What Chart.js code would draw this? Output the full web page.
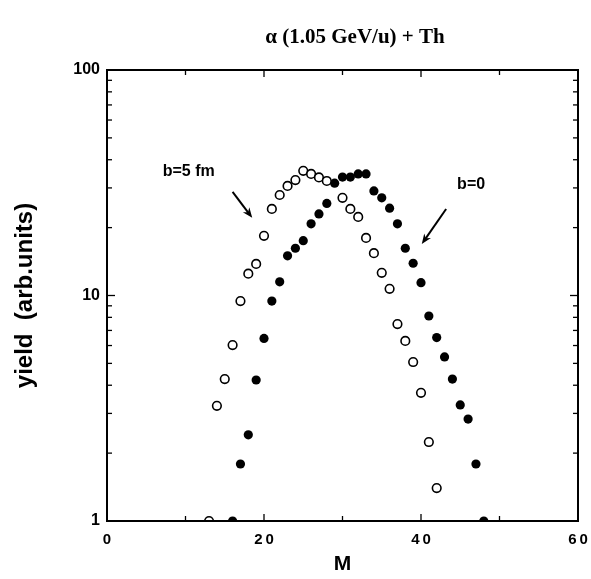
<!DOCTYPE html>
<html>
<head>
<meta charset="utf-8">
<script src="https://cdn.jsdelivr.net/npm/chart.js@4.4.0/dist/chart.umd.min.js"></script>
<style>
html, body { margin: 0; padding: 0; background: #fff; }
</style>
</head>
<body>
<canvas id="canvas" width="591" height="579"></canvas>
<script>
// multiplicity M and yields
var multOpen  = [13, 14, 15, 16, 17, 18, 19, 20, 21, 22, 23, 24, 25, 26, 27, 28,
                 30, 31, 32, 33, 34, 35, 36, 37, 38, 39, 40, 41, 42];
var yieldOpen = [1.0, 3.24, 4.26, 6.03, 9.45, 12.5, 13.8, 18.4, 24.2, 27.9, 30.6, 32.5, 35.7, 34.6, 33.4, 32.2,
                 27.1, 24.2, 22.3, 18.0, 15.4, 12.6, 10.7, 7.47, 6.29, 5.07, 3.70, 2.24, 1.40];

var multFilled  = [16, 17, 18, 19, 20, 21, 22, 23, 24, 25, 26, 27, 28, 29, 30, 31, 32,
                   33, 34, 35, 36, 37, 38, 39, 40, 41, 42, 43, 44, 45, 46, 47, 48];
var yieldFilled = [1.0, 1.79, 2.41, 4.22, 6.45, 9.45, 11.5, 15.0, 16.2, 17.5, 20.8, 23.0, 25.6, 31.5, 33.5, 33.5, 34.6,
                   34.6, 29.1, 27.1, 24.4, 20.8, 16.2, 13.9, 11.4, 8.11, 6.51, 5.34, 4.26, 3.27, 2.83, 1.79, 1.0];

var xTicks = [0, 20, 40, 60];
var yTicks = [1, 10, 100];

// annotations (data coordinates)
var noteText  = ['b=5 fm', 'b=0'];
var noteM     = [7.1, 44.6];
var noteY     = [35.3, 30.9];
var arrowFromM = [16.0, 43.2];
var arrowFromY = [28.8, 24.2];
var arrowToM   = [18.5, 40.1];
var arrowToY   = [22.1, 16.9];

var sans = '"Liberation Sans", Arial, sans-serif';

function toPoints(xs, ys) {
    var pts = [];
    for (var i = 0; i < xs.length; i++) pts.push({x: xs[i], y: ys[i]});
    return pts;
}

//frame round the plot with inward ticks on all four sides
var frameTicks = {
    id: 'frameTicks',
    afterDatasetsDraw: function(chart) {
        var ctx = chart.ctx, a = chart.chartArea;
        var xs = chart.scales.x, ys = chart.scales.y;
        ctx.save();
        ctx.strokeStyle = '#000';
        ctx.lineWidth = 1.3;
        function seg(x1, y1, x2, y2) {
            ctx.beginPath(); ctx.moveTo(x1, y1); ctx.lineTo(x2, y2); ctx.stroke();
        }
        for (var v = 10; v < 60; v += 10) {
            var px = xs.getPixelForValue(v);
            var len = (v % 20 === 0) ? 7 : 5;
            seg(px, a.bottom, px, a.bottom - len);
            seg(px, a.top, px, a.top + len);
        }
        for (var d = 1; d < 100; d *= 10) {
            for (var k = 2; k <= 10; k++) {
                if (d * k >= 100) continue;
                var py = ys.getPixelForValue(d * k);
                var l = (k === 10) ? 8 : 5;
                seg(a.left, py, a.left + l, py);
                seg(a.right, py, a.right - l, py);
            }
        }
        ctx.lineWidth = 2;
        ctx.strokeRect(a.left, a.top, a.right - a.left, a.bottom - a.top);
        ctx.restore();
    }
};

var notes = {
    id: 'notes',
    afterDraw: function(chart) {
        var ctx = chart.ctx;
        var xs = chart.scales.x, ys = chart.scales.y;
        ctx.save();
        ctx.fillStyle = '#000';
        ctx.strokeStyle = '#000';
        ctx.font = 'bold 16px ' + sans;
        ctx.textBaseline = 'middle';
        for (var i = 0; i < noteText.length; i++) {
            ctx.fillText(noteText[i], xs.getPixelForValue(noteM[i]), ys.getPixelForValue(noteY[i]));
            var x1 = xs.getPixelForValue(arrowFromM[i]), y1 = ys.getPixelForValue(arrowFromY[i]);
            var x2 = xs.getPixelForValue(arrowToM[i]),   y2 = ys.getPixelForValue(arrowToY[i]);
            var ang = Math.atan2(y2 - y1, x2 - x1);
            ctx.lineWidth = 2;
            ctx.beginPath();
            ctx.moveTo(x1, y1);
            ctx.lineTo(x2 - 6 * Math.cos(ang), y2 - 6 * Math.sin(ang));
            ctx.stroke();
            ctx.beginPath();
            ctx.moveTo(x2, y2);
            ctx.lineTo(x2 - 11 * Math.cos(ang - 0.38), y2 - 11 * Math.sin(ang - 0.38));
            ctx.lineTo(x2 - 7 * Math.cos(ang), y2 - 7 * Math.sin(ang));
            ctx.lineTo(x2 - 11 * Math.cos(ang + 0.38), y2 - 11 * Math.sin(ang + 0.38));
            ctx.closePath();
            ctx.fill();
        }
        // heading above the frame
        ctx.font = 'bold 21px "Liberation Serif", "Times New Roman", serif';
        ctx.textAlign = 'center';
        ctx.fillText('\u03B1 (1.05 GeV/u) + Th', 355, 38);
        ctx.restore();
    }
};

var myChart = new Chart(document.getElementById('canvas').getContext('2d'), {
    type: 'scatter',
    data: {
        datasets: [
            {
                label: 'b=5 fm',
                data: toPoints(multOpen, yieldOpen),
                pointRadius: 4.3,
                pointBorderWidth: 1.6,
                pointBorderColor: '#000',
                pointBackgroundColor: '#fff',
                clip: 0
            },
            {
                label: 'b=0',
                data: toPoints(multFilled, yieldFilled),
                pointRadius: 4.6,
                pointBorderWidth: 0,
                pointBorderColor: '#000',
                pointBackgroundColor: '#000',
                clip: 0
            }
        ]
    },
    options: {
        responsive: false,
        animation: false,
        layout: { padding: { left: 0, right: 13, top: 70, bottom: 0 } },
        plugins: {
            legend: { display: false },
            tooltip: { enabled: false }
        },
        scales: {
            x: {
                type: 'linear',
                min: 0, max: 60,
                afterBuildTicks: function(s) { s.ticks = xTicks.map(function(v) { return {value: v}; }); },
                afterFit: function(s) { s.height = 58; s.paddingLeft = 0; s.paddingRight = 0; },
                grid: { display: false, drawTicks: false },
                border: { display: false },
                ticks: {
                    color: '#000', padding: 10, maxRotation: 0,
                    font: { family: sans, size: 15, weight: 'bold' },
                    callback: function(v) { return String(v).split('').join('\u2009'); }
                },
                title: {
                    display: true, text: 'M', color: '#000',
                    font: { family: sans, size: 21, weight: 'bold' },
                    padding: { top: 0, bottom: 2 }
                }
            },
            y: {
                type: 'logarithmic',
                min: 1, max: 100,
                afterBuildTicks: function(s) { s.ticks = yTicks.map(function(v) { return {value: v}; }); },
                afterFit: function(s) { s.width = 107; s.paddingTop = 0; s.paddingBottom = 0; },
                grid: { display: false, drawTicks: false },
                border: { display: false },
                ticks: {
                    color: '#000', padding: 7,
                    font: { family: sans, size: 16, weight: 'bold' },
                    callback: function(v) { return String(v); }
                },
                title: {
                    display: true, text: 'yield  (arb.units)', color: '#000',
                    font: { family: sans, size: 24, weight: 'bold' },
                    padding: { top: 11, bottom: 0 }
                }
            }
        }
    },
    plugins: [frameTicks, notes]
});
</script>
</body>
</html>
